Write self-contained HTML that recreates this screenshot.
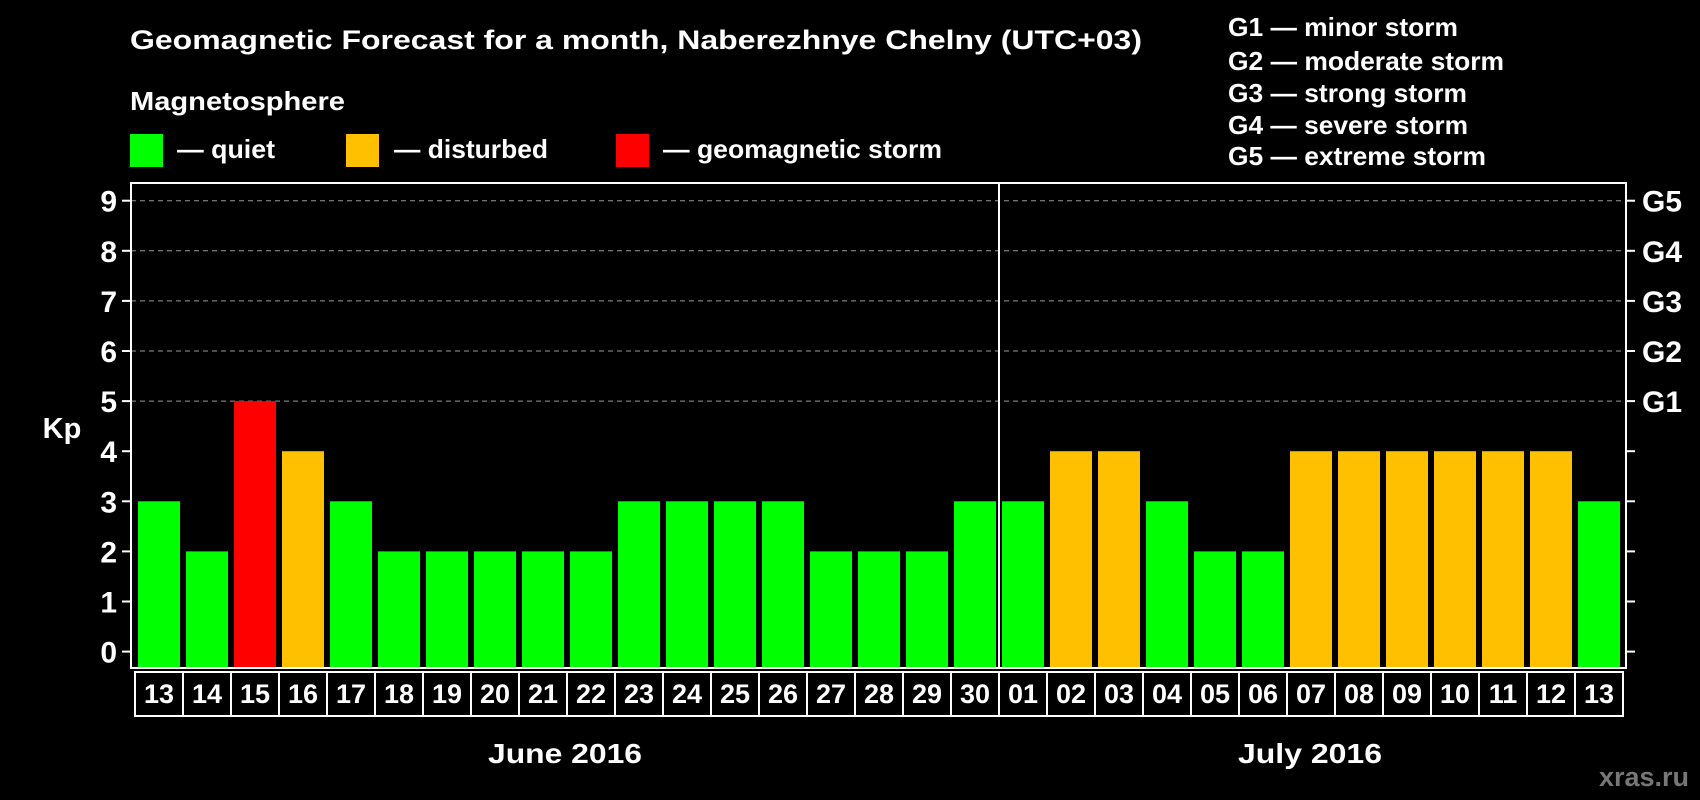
<!DOCTYPE html>
<html><head><meta charset="utf-8"><style>
html,body{margin:0;padding:0;background:#000;}
svg{display:block;font-family:"Liberation Sans",Arial,sans-serif;font-weight:bold;}
</style></head><body>
<svg id="chart" width="1700" height="800" viewBox="0 0 1700 800">
<rect width="1700" height="800" fill="#000"/>
<text x="130" y="49" fill="#fff" font-size="27" textLength="1012" lengthAdjust="spacingAndGlyphs">Geomagnetic Forecast for a month, Naberezhnye Chelny (UTC+03)</text>
<text x="130" y="110" fill="#fff" font-size="26" textLength="215" lengthAdjust="spacingAndGlyphs">Magnetosphere</text>
<g><rect x="130" y="134" width="33" height="33" fill="#00ff00"/><text x="177" y="158" fill="#fff" font-size="26" textLength="98" lengthAdjust="spacingAndGlyphs">— quiet</text></g>
<g><rect x="346" y="134" width="33" height="33" fill="#ffc000"/><text x="394" y="158" fill="#fff" font-size="26" textLength="154" lengthAdjust="spacingAndGlyphs">— disturbed</text></g>
<g><rect x="616" y="134" width="33" height="33" fill="#ff0000"/><text x="663" y="158" fill="#fff" font-size="26" textLength="279" lengthAdjust="spacingAndGlyphs">— geomagnetic storm</text></g>
<g fill="#fff" font-size="26" lengthAdjust="spacingAndGlyphs">
<text x="1228" y="36" textLength="230" lengthAdjust="spacingAndGlyphs">G1 — minor storm</text>
<text x="1228" y="70" textLength="276" lengthAdjust="spacingAndGlyphs">G2 — moderate storm</text>
<text x="1228" y="102" textLength="239" lengthAdjust="spacingAndGlyphs">G3 — strong storm</text>
<text x="1228" y="134" textLength="240" lengthAdjust="spacingAndGlyphs">G4 — severe storm</text>
<text x="1228" y="165" textLength="258" lengthAdjust="spacingAndGlyphs">G5 — extreme storm</text>
</g>
<g id="grid"></g>
<g id="bars"></g>
<rect x="131" y="183" width="1495" height="485" fill="none" stroke="#fff" stroke-width="2"/>
<g id="axes"></g>
<text x="62" y="438" fill="#fff" font-size="29" text-anchor="middle">Kp</text>
<text x="565" y="763" fill="#fff" font-size="28" text-anchor="middle" textLength="154" lengthAdjust="spacingAndGlyphs">June 2016</text>
<text x="1310" y="763" fill="#fff" font-size="28" text-anchor="middle" textLength="144" lengthAdjust="spacingAndGlyphs">July 2016</text>
<text x="1689" y="786" fill="#777" font-size="27" text-anchor="end">xras.ru</text>
</svg>
<script>
const days=["13","14","15","16","17","18","19","20","21","22","23","24","25","26","27","28","29","30","01","02","03","04","05","06","07","08","09","10","11","12","13"];
const kp=[3,2,5,4,3,2,2,2,2,2,3,3,3,3,2,2,2,3,3,4,4,3,2,2,4,4,4,4,4,4,3];
const yTicks=[0,1,2,3,4,5,6,7,8,9];
const gLabels=["G1","G2","G3","G4","G5"];
const NS="http://www.w3.org/2000/svg";
const x0=135,slot=48,barW=42,base=668;
function y(v){return 651.6-v*50.1;}
function xs(i){return x0+i*slot;}
function mk(t,a,p){const e=document.createElementNS(NS,t);for(const k in a)e.setAttribute(k,a[k]);p.appendChild(e);return e;}
const grid=document.getElementById('grid'),bars=document.getElementById('bars'),axes=document.getElementById('axes');
yTicks.forEach(v=>{
  if(v>=5){const l=mk('line',{x1:131,x2:1626,y1:y(v),y2:y(v),stroke:'#999','stroke-dasharray':'5,4','stroke-width':1},grid);
  
  }
  mk('line',{x1:122,x2:131,y1:y(v),y2:y(v),stroke:'#fff','stroke-width':2},axes);
  mk('line',{x1:1626,x2:1635,y1:y(v),y2:y(v),stroke:'#fff','stroke-width':2},axes);
  const t=mk('text',{x:117,y:y(v)+11,fill:'#fff','font-size':30,'text-anchor':'end'},axes);t.textContent=v;
  
  
  if(v>=5){const g=mk('text',{x:1642,y:y(v)+11,fill:'#fff','font-size':30},axes);g.textContent=gLabels[v-5];
  
  }
});
const sep=mk('line',{x1:xs(18),x2:xs(18),y1:183,y2:base,stroke:'#fff','stroke-width':2},axes);


kp.forEach((v,i)=>{
  const c=v>=5?'#ff0000':(v>=4?'#ffc000':'#00ff00');
  const r=mk('rect',{x:xs(i)+3,y:y(v),width:barW,height:base-y(v),fill:c},bars);
  
  
  const b=mk('rect',{x:xs(i),y:672,width:slot,height:44,fill:'none',stroke:'#fff','stroke-width':2},axes);
  
  
  const t=mk('text',{x:xs(i)+slot/2,y:703,fill:'#fff','font-size':27,'text-anchor':'middle'},axes);t.textContent=days[i];
  
  
});
</script>
</body></html>
